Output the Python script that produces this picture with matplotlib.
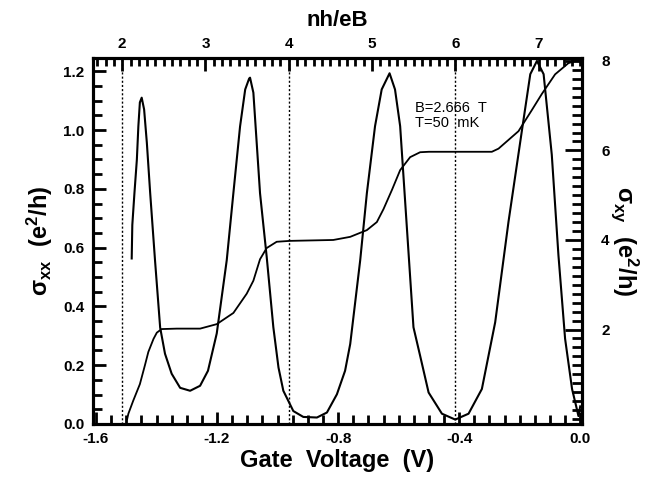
import matplotlib
matplotlib.use("Agg")
import matplotlib.pyplot as plt
from matplotlib.ticker import MultipleLocator, FixedLocator

plt.rcParams['font.family'] = ['Liberation Sans', 'DejaVu Sans']
plt.rcParams['mathtext.fontset'] = 'custom'
plt.rcParams['mathtext.rm'] = 'Liberation Sans:bold'
plt.rcParams['mathtext.bf'] = 'Liberation Sans:bold'
plt.rcParams['mathtext.it'] = 'Liberation Sans:bold'
plt.rcParams['mathtext.default'] = 'bf'

## data
# sigma_xx (left axis) vs gate voltage (V)
vg_xx = [-1.482, -1.480, -1.473, -1.465, -1.460, -1.455, -1.449, -1.441, -1.432,
         -1.421, -1.405, -1.388, -1.372, -1.350, -1.322, -1.289, -1.256, -1.230,
         -1.201, -1.168, -1.146, -1.124, -1.107, -1.094, -1.091, -1.080, -1.069,
         -1.058, -1.036, -1.014, -0.997, -0.981, -0.948, -0.915, -0.870, -0.837,
         -0.804, -0.777, -0.760, -0.727, -0.705, -0.678, -0.656, -0.630, -0.612,
         -0.595, -0.573, -0.551, -0.529, -0.501, -0.457, -0.413, -0.369, -0.325,
         -0.281, -0.237, -0.193, -0.165, -0.143, -0.121, -0.094, -0.072, -0.050,
         -0.027, -0.011, -0.006, 0.0]
sxx = [0.563, 0.677, 0.785, 0.899, 1.013, 1.094, 1.110, 1.070, 0.957,
       0.786, 0.557, 0.328, 0.239, 0.171, 0.123, 0.113, 0.130, 0.181,
       0.308, 0.557, 0.786, 1.012, 1.138, 1.175, 1.178, 1.127, 0.956,
       0.785, 0.569, 0.329, 0.192, 0.113, 0.044, 0.024, 0.022, 0.039,
       0.101, 0.181, 0.272, 0.557, 0.785, 1.013, 1.138, 1.193, 1.138,
       1.013, 0.671, 0.329, 0.232, 0.107, 0.035, 0.015, 0.035, 0.119,
       0.346, 0.688, 0.996, 1.190, 1.235, 1.190, 0.916, 0.574, 0.290,
       0.119, 0.050, 0.027, 0.060]

# sigma_xy (right axis)
vg_xy = [-1.497, -1.493, -1.477, -1.455, -1.438, -1.427, -1.410, -1.399, -1.383,
         -1.333, -1.256, -1.201, -1.146, -1.102, -1.080, -1.058, -1.036, -1.003,
         -0.959, -0.816, -0.760, -0.705, -0.672, -0.650, -0.622, -0.595, -0.562,
         -0.529, -0.500, -0.292, -0.270, -0.248, -0.204, -0.160, -0.127, -0.083,
         -0.039, -0.006, 0.0]
sxy = [0.0, 0.12, 0.41, 0.78, 1.21, 1.50, 1.79, 1.93, 2.01,
       2.02, 2.02, 2.12, 2.37, 2.80, 3.09, 3.57, 3.82, 3.96,
       3.98, 4.00, 4.07, 4.22, 4.40, 4.69, 5.12, 5.56, 5.85,
       5.96, 5.97, 5.97, 6.04, 6.17, 6.43, 6.90, 7.26, 7.70,
       7.95, 8.02, 8.03]

# filling factor axis: nu = NU_OFFSET + NU_SLOPE * Vg
NU_OFFSET = 7.50
NU_SLOPE = 3.634
nu_lines = [2, 4, 6]
nu_ticks = [2, 3, 4, 5, 6, 7]

XMIN, XMAX = -1.61, 0.005

fig = plt.figure(figsize=(6.65, 4.8), dpi=100)
ax = fig.add_axes([0.1398, 0.1167, 0.735, 0.7625])

ax.plot(vg_xx, sxx, color='black', lw=1.5)
for nu in nu_lines:
    ax.axvline((nu - NU_OFFSET) / NU_SLOPE, color='black', lw=1.0, ls=(0, (1.5, 1.5)))

ax.set_xlim(XMIN, XMAX)
ax.set_ylim(0, 1.245)
ax.xaxis.set_major_locator(MultipleLocator(0.4))
ax.yaxis.set_major_locator(MultipleLocator(0.2))
ax.yaxis.set_minor_locator(MultipleLocator(0.05))
ax.xaxis.set_major_formatter(lambda v, p: f"{v:.1f}")
ax.yaxis.set_major_formatter(lambda v, p: f"{v:.1f}")
ax.set_xlabel('Gate  Voltage  (V)', fontsize=17, fontweight='bold', labelpad=2)
ax.set_ylabel(r'$\sigma_{xx}\ \ (e^2/h)$', fontsize=17, labelpad=6)

ax.text(-0.545, 1.1, 'B=2.666  T\nT=50  mK', fontsize=10.5, va='top', ha='left',
        linespacing=1.15)

# right axis: sigma_xy
ax2 = ax.twinx()
ax2.plot(vg_xy, sxy, color='black', lw=1.3)
ax2.set_ylim(-0.11, 8.065)
ax2.yaxis.set_major_locator(FixedLocator([2, 4, 6, 8]))
ax2.yaxis.set_minor_locator(MultipleLocator(0.2))
ax2.tick_params(axis='y', which='both', direction='in', labelsize=11)
ax2.tick_params(axis='y', which='major', length=12, width=2, pad=14)
ax2.tick_params(axis='y', which='minor', length=7, width=2)
for lab in ax2.get_yticklabels():
    lab.set_fontweight('bold')
for sp in ax2.spines.values():
    sp.set_linewidth(2.2)
ax2.set_ylabel(r'$\sigma_{xy}\ \ (e^2/h)$', fontsize=17, rotation=270, labelpad=22)

# top axis: nh/eB (linear in gate voltage)
top = ax.twiny()
top.set_xlim(NU_OFFSET + NU_SLOPE * XMIN, NU_OFFSET + NU_SLOPE * XMAX)
top.xaxis.set_major_locator(FixedLocator(nu_ticks))
top.xaxis.set_minor_locator(MultipleLocator(0.1))
top.tick_params(axis='x', which='both', direction='in', labelsize=11)
top.tick_params(axis='x', which='major', length=9, width=2, pad=5)
top.tick_params(axis='x', which='minor', length=6, width=2)
for lab in top.get_xticklabels():
    lab.set_fontweight('bold')
for sp in top.spines.values():
    sp.set_linewidth(2.2)
top.set_xlabel('nh/eB', fontsize=16, fontweight='bold', labelpad=8)

# main axes drawn last so its bottom ticks sit above the twins
ax.set_zorder(3)
ax.patch.set_visible(False)
ax.xaxis.set_minor_locator(MultipleLocator(0.05))
ax.tick_params(which='both', direction='in', labelsize=11)
ax.tick_params(which='major', length=9, width=2, pad=6)
ax.tick_params(which='minor', length=6.5, width=2)
ax.tick_params(axis='x', which='both', bottom=True, top=False)
ax.tick_params(axis='y', which='both', left=True, right=False)
for lab in ax.get_xticklabels() + ax.get_yticklabels():
    lab.set_fontweight('bold')
for sp in ax.spines.values():
    sp.set_linewidth(2.2)

fig.savefig('out.png', dpi=100)
